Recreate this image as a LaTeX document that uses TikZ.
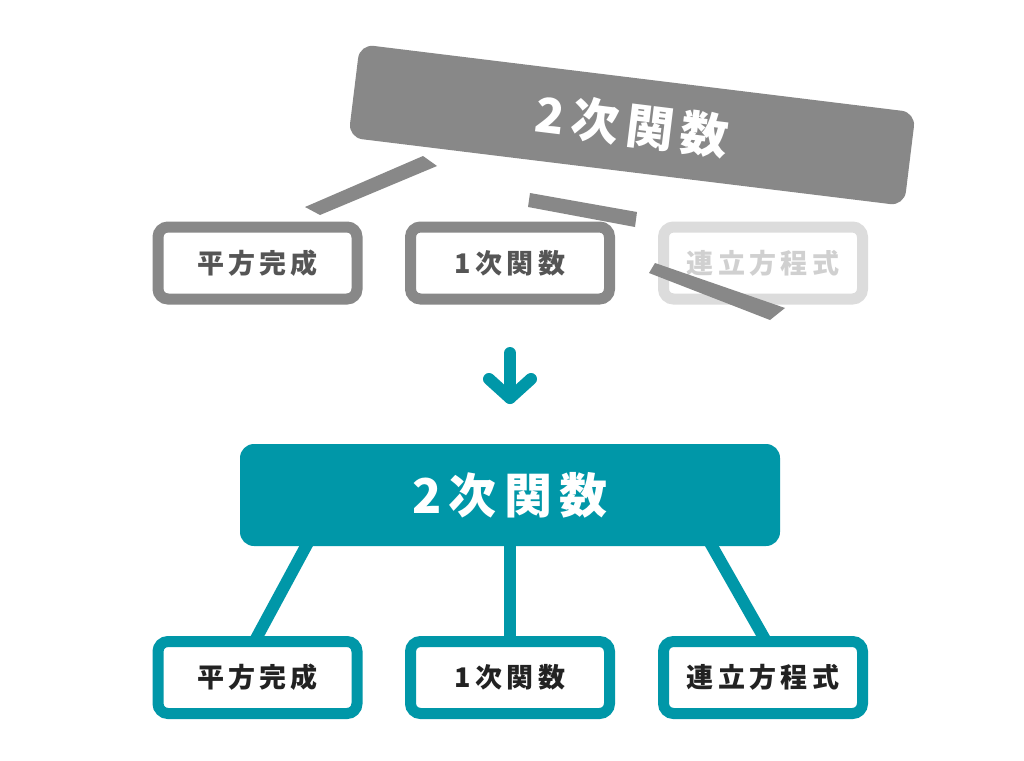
\documentclass[tikz,border=0pt]{standalone}
\usepackage{fontspec}
\setmainfont{Noto Sans CJK JP}
\newfontfamily\jpS{Noto Sans CJK JP}[LetterSpace=16]
\newfontfamily\jpL{Noto Sans CJK JP}[LetterSpace=15]
\usetikzlibrary{backgrounds}
\pgfdeclarelayer{pagebg}
\pgfsetlayers{pagebg,background,main}
\definecolor{tealc}{HTML}{0097A8}
\definecolor{grayc}{HTML}{888888}
\definecolor{lightc}{HTML}{DCDCDC}
\definecolor{txtdark}{HTML}{222222}
\definecolor{txtgray}{HTML}{555555}
\definecolor{txtlight}{HTML}{D0D0D0}
\tikzset{
  smallbox/.style={draw, line width=11pt, rounded corners=10pt, fill=white,
    minimum width=199pt, minimum height=72pt, inner sep=0pt,
    font=\jpS\bfseries\fontsize{27}{30}\selectfont},
  tealsmall/.style={smallbox, draw=tealc, text=txtdark},
  graysmall/.style={smallbox, draw=grayc, text=txtgray},
  lightsmall/.style={smallbox, draw=lightc, text=txtlight},
  bigbox/.style={rounded corners=14pt, minimum width=540pt, minimum height=102pt,
    inner sep=0pt, text=white, font=\jpL\bfseries\fontsize{48}{52}\selectfont},
  tealline/.style={draw=tealc, line width=12pt, shorten <=-6pt, shorten >=-6pt},
  brokenbar/.style={fill=grayc, draw=none},
  arrowline/.style={draw=tealc, line width=12pt, line cap=round, line join=round}
}
\begin{document}
\begin{tikzpicture}[x=1pt,y=-1pt]
\begin{pgfonlayer}{pagebg}
\fill[white] (0,0) rectangle (1024,760);
\end{pgfonlayer}
\useasboundingbox (0,0) rectangle (1024,760);

% ---- top (broken) diagram ----
\node[bigbox, fill=grayc, minimum width=560pt, minimum height=94pt, rotate=-7] (gtop) at (632,125) {2次関数};
\node[graysmall] (ga) at (257.5,263) {平方完成};
\node[graysmall] (gb) at (510,263) {1次関数};
\node[lightsmall] (gc) at (763,263) {連立方程式};
\fill[brokenbar] (305,207) -- (320,215) -- (437,166) -- (423,156) -- cycle;
\fill[brokenbar] (530,193) -- (528,207) -- (635,227) -- (637,212) -- cycle;
\fill[brokenbar] (655,263) -- (649,273) -- (770,320) -- (785,308) -- cycle;

% ---- arrow ----
\coordinate (arrS) at (510,353);
\coordinate (arrE) at (510,398);
\draw[arrowline] (arrS) -- (arrE);
\draw[arrowline] ([xshift=-21pt,yshift=19pt]arrE) -- (arrE) -- ([xshift=21pt,yshift=19pt]arrE);

% ---- bottom diagram ----
\node[bigbox, fill=tealc] (top) at (510,495) {2次関数};
\node[tealsmall] (a) at (257.5,677.5) {平方完成};
\node[tealsmall] (b) at (510,677.5) {1次関数};
\node[tealsmall] (c) at (763,677.5) {連立方程式};
\begin{scope}[on background layer]
\draw[tealline] ([xshift=-204pt]top.south) -- (a.north);
\draw[tealline] (top.south) -- (b.north);
\draw[tealline] ([xshift=202pt]top.south) -- (c.north);
\end{scope}
\end{tikzpicture}
\end{document}
